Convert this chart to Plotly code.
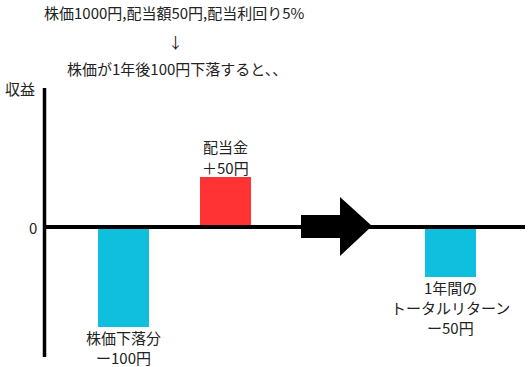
import plotly.graph_objects as go

# ---- data ----
categories = ["株価下落分", "配当金", "1年間のトータルリターン"]
values = [-100, 50, -50]
bar_colors = ["#10BFDD", "#FF3333", "#10BFDD"]
label_lines = [["株価下落分", "ー100円"], ["配当金", "＋50円"], ["1年間の", "トータルリターン", "ー50円"]]
title_lines = ["株価1000円,配当額50円,配当利回り5%", "↓", "株価が1年後100円下落すると、、"]
y_axis_label = "収益"
zero_label = "0"

# ---- layout positions (pixels == data units) ----
bar_x = [123.5, 225.5, 450]
bar_w = 51
FONT = "Noto Sans CJK JP, Noto Sans, sans-serif"
TXT = "#222222"
FS = 15

fig = go.Figure()
fig.add_trace(go.Bar(
    x=bar_x, y=values, width=bar_w, marker=dict(color=bar_colors, line=dict(width=0)),
    hoverinfo="skip", showlegend=False,
))

annotations = []
# bar labels
for xv, v, lines in zip(bar_x, values, label_lines):
    n = len(lines)
    for i, t in enumerate(lines):
        if v >= 0:
            yy = v + 10 + (n - 1 - i) * 21
        else:
            yy = v - 10 - i * 20
        annotations.append(dict(x=xv, y=yy, text=t, showarrow=False, xanchor="center", yanchor="middle",
                                borderpad=0, font=dict(family=FONT, size=FS, color=TXT)))
# titles
title_pos = [(174, 215), (175, 186), (177, 159)]
for (tx, ty), t in zip(title_pos, title_lines):
    annotations.append(dict(x=tx, y=ty, text=t, showarrow=False, xanchor="center", yanchor="middle",
                            font=dict(family=FONT, size=FS, color=TXT)))
annotations.append(dict(x=20, y=139, text=y_axis_label, showarrow=False, xanchor="center", yanchor="middle",
                        font=dict(family=FONT, size=FS, color=TXT)))
annotations.append(dict(x=33, y=0, text=zero_label, showarrow=False, xanchor="center", yanchor="middle",
                        font=dict(family=FONT, size=FS, color=TXT)))

shapes = [
    # horizontal zero line
    dict(type="line", x0=44.5, x1=525, y0=0, y1=0, line=dict(color="black", width=4), layer="above"),
    # vertical axis
    dict(type="line", x0=44.5, x1=44.5, y0=139, y1=-130, line=dict(color="black", width=3.5), layer="above"),
    # big arrow
    dict(type="path",
         path="M 301 12 L 340 12 L 340 30 L 372 1 L 340 -29 L 340 -11 L 301 -11 Z",
         fillcolor="black", line=dict(width=0), layer="above"),
]

fig.update_layout(
    width=529, height=367,
    margin=dict(l=0, r=0, t=0, b=0),
    paper_bgcolor="white", plot_bgcolor="white",
    xaxis=dict(range=[0, 529], visible=False, fixedrange=True),
    yaxis=dict(range=[-140, 227], visible=False, fixedrange=True),
    annotations=annotations,
    shapes=shapes,
    bargap=0,
)

fig.write_html("out.html")
